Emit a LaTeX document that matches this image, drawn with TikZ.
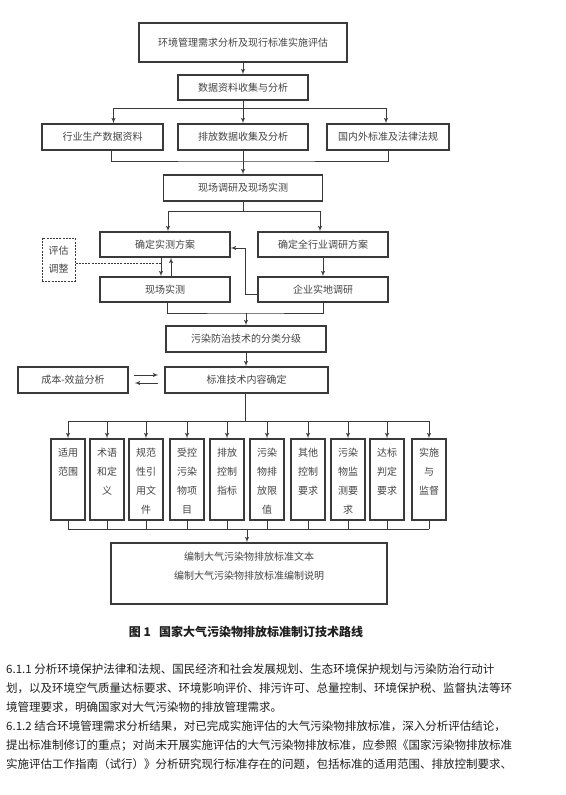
\documentclass[tikz,border=0pt]{standalone}
\usepackage{fontspec}
\setmainfont{Noto Sans CJK SC}
\usepackage{xcolor}
\usepackage{tikz}
\usetikzlibrary{shapes,arrows}
\definecolor{boxgray}{HTML}{3A3A3A}
\definecolor{txtgray}{HTML}{444444}
\tikzstyle{box} = [draw=boxgray, line width=1.2pt, inner sep=0pt, text=txtgray, font=\fontsize{10}{12}\selectfont]
\tikzstyle{line} = [draw=boxgray, line width=0.9pt, -latex']
\tikzstyle{wire} = [draw=boxgray, line width=0.9pt]
\tikzstyle{para} = [anchor=west, inner sep=0pt, text=black!88, font=\fontsize{11.5}{14}\selectfont]
\newcommand{\toptext}[3]{\parbox[c][#1][t]{#2}{\centering\fontsize{10}{19}\selectfont\rule{0pt}{17.5pt}#3}}

\begin{document}
\begin{tikzpicture}[x=1pt,y=-1pt]
\useasboundingbox (0,0) rectangle (565,795);
% upper part
\node[box, minimum width=208pt, minimum height=39pt] (top) at (243,42.5) {环境管理需求分析及现行标准实施评估};
\node[box, minimum width=130pt, minimum height=25pt] (data) at (243,87.5) {数据资料收集与分析};
\node[box, minimum width=121pt, minimum height=26pt] (hy) at (102.5,137) {行业生产数据资料};
\node[box, minimum width=130pt, minimum height=26pt] (pf) at (243,137) {排放数据收集及分析};
\node[box, minimum width=122pt, minimum height=26pt] (gn) at (388,137) {国内外标准及法律法规};
\node[box, minimum width=159pt, minimum height=26pt] (xc) at (243,188) {现场调研及现场实测};
%
\node[box, minimum width=130pt, minimum height=25pt] (fa) at (165,244.5) {确定实测方案};
\node[box, minimum width=130pt, minimum height=25pt] (qh) at (323,244.5) {确定全行业调研方案};
\node[box, dash pattern=on 2pt off 1.2pt, line width=1pt, minimum width=33pt, minimum height=43pt, align=center, font=\fontsize{10}{18}\selectfont] (pg) at (58.5,259.5) {评估\\调整};
\node[box, minimum width=130pt, minimum height=25pt] (sc) at (165,289.5) {现场实测};
\node[box, minimum width=130pt, minimum height=25pt] (qy) at (323,289.5) {企业实地调研};
%
\node[box, minimum width=160pt, minimum height=26pt] (fz) at (246,339) {污染防治技术的分类分级};
\node[box, minimum width=163pt, minimum height=26pt] (bz) at (246.5,380) {标准技术内容确定};
\node[box, minimum width=110pt, minimum height=26pt] (cb) at (73,380) {成本-效益分析};
% the ten items
\foreach \i/\xx/\t in {1/68/{适用\\范围}, 2/107/{术语\\和定\\义}, 3/146/{规范\\性引\\用文\\件},
  4/187/{受控\\污染\\物项\\目}, 5/227/{排放\\控制\\指标}, 6/267/{污染\\物排\\放限\\值},
  7/308/{其他\\控制\\要求}, 8/348/{污染\\物监\\测要\\求}, 9/387/{达标\\判定\\要求}, 10/429/{实施\\与\\监督}}
  \node[box, minimum width=34pt, minimum height=81pt] (c\i) at (\xx,479.5) {\toptext{81pt}{30pt}{\t}};
\node[box, minimum width=276pt, minimum height=61pt] (fin) at (249,573.5)
  {\toptext{61pt}{270pt}{编制大气污染物排放标准文本\\编制大气污染物排放标准编制说明}};
%
\coordinate (b1) at (243,108);
\coordinate (b2) at (243,161);
\coordinate (b3) at (243,211);
\coordinate (b4) at (245,248);
\coordinate (b5) at (246,313);
\coordinate (b6) at (245,421);
\coordinate (b7) at (247,529);
\draw[line] (top) -- (data);
\draw[wire] (data.south) -- (b1);
\draw[line] (b1) -| ([xshift=11pt]hy.north);
\draw[line] (b1) -| ([xshift=-2pt]gn.north);
\draw[line] (b1) -- (pf.north);
\draw[wire] ([xshift=9pt]hy.south) |- (b2) -| (gn.south);
\draw[line] (pf.south) -- (pf.south |- xc.north);
\draw[wire] (xc.south) -- (b3);
\draw[line] (b3) -| ([xshift=3pt]fa.north);
\draw[line] (b3) -| ([xshift=-3pt]qh.north);
%
\coordinate (dn) at ([xshift=-4pt]fa.south);
\coordinate (pge) at ([yshift=-3.5pt]pg.east);
\draw[line] (dn) -- (dn |- sc.north);
\draw[line] ([xshift=6pt]sc.north) -- ([xshift=6pt]fa.south);
\draw[wire, dash pattern=on 2pt off 1.2pt] (pge) -- (pge -| dn);
\draw[line] (qh) -- (qy);
\draw[line] ([yshift=-4.5pt]qy.west) -| (b4) -- (b4 -| fa.east);
\draw[wire] ([xshift=2pt]sc.south) |- (b5) -| (qy.south);
\draw[line] (b5) -- (b5 |- fz.north);
\draw[line] (fz) -- (fz |- bz.north);
\draw[line] ([xshift=5pt,yshift=5pt]cb.east) -- ([xshift=-6pt,yshift=5pt]bz.west);
\draw[line] ([xshift=-6pt,yshift=-3pt]bz.west) -- ([xshift=6pt,yshift=-3pt]cb.east);
%
\draw[wire] (bz.south -| b6) -- (b6);
\draw[wire] (b6 -| c1) -- (b6 -| c10);
\foreach \i in {1,...,10} \draw[line] (b6 -| c\i) -- (c\i.north);
\foreach \i in {1,...,10} \draw[wire] (c\i.south) -- (c\i.south |- b7);
\draw[wire] (b7 -| c1) -- (b7 -| c10);
\draw[line] (b7) -- (b7 |- fin.north);
% caption and text
\node[text=black!88, font=\bfseries\fontsize{12}{14}\selectfont] (cap) at (246,632) {图 1\hspace{8pt}国家大气污染物排放标准制订技术路线};
\node[para] (p1) at (6,669.5) {6.1.1 分析环境保护法律和法规、国民经济和社会发展规划、生态环境保护规划与污染防治行动计};
\node[para] (p2) at (6,688.5) {划，以及环境空气质量达标要求、环境影响评价、排污许可、总量控制、环境保护税、监督执法等环};
\node[para] (p3) at (6,707.5) {境管理要求，明确国家对大气污染物的排放管理需求。};
\node[para] (p4) at (6,726.5) {6.1.2 结合环境管理需求分析结果，对已完成实施评估的大气污染物排放标准，深入分析评估结论，};
\node[para] (p5) at (6,745.5) {提出标准制修订的重点；对尚未开展实施评估的大气污染物排放标准，应参照《国家污染物排放标准};
\node[para] (p6) at (6,764.5) {实施评估工作指南（试行）》分析研究现行标准存在的问题，包括标准的适用范围、排放控制要求、};
\end{tikzpicture}
\end{document}
